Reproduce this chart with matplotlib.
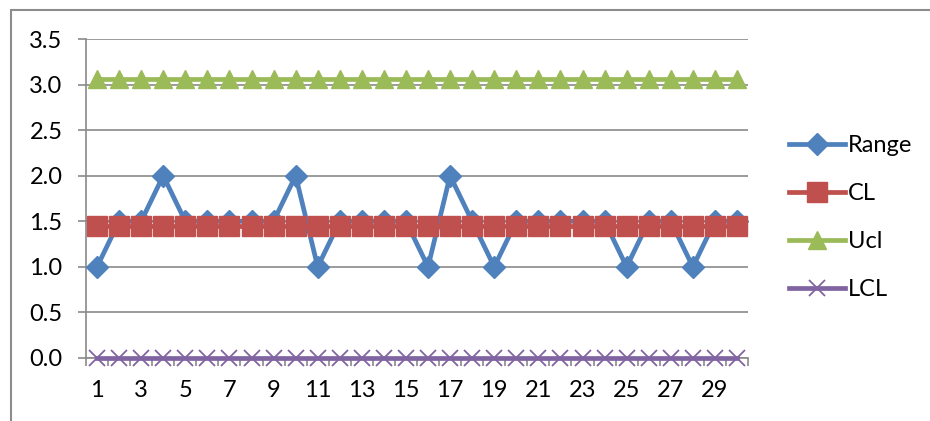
import matplotlib.pyplot as plt
import numpy as np
from matplotlib.patches import Rectangle

plt.rcParams['font.family'] = ['Lato', 'DejaVu Sans']

samples = np.arange(1, 31)
range_vals = [1.0, 1.5, 1.5, 2.0, 1.5, 1.5, 1.5, 1.5, 1.5, 2.0,
              1.0, 1.5, 1.5, 1.5, 1.5, 1.0, 2.0, 1.5, 1.0, 1.5,
              1.5, 1.5, 1.5, 1.5, 1.0, 1.5, 1.5, 1.0, 1.5, 1.5]
cl = 1.45
ucl = 3.065
lcl = 0.0
tick_labels = [str(i) for i in range(1, 30, 2)]

fig = plt.figure(figsize=(9.3, 4.21), dpi=100)
ax = fig.add_axes([86/930, 1-358/421, (748-86)/930, (358-39)/421])

n = len(samples)
ax.plot(samples, range_vals, color='#4F81BD', lw=3.4, marker='D', ms=11.5,
        label='Range', zorder=3)
ax.plot(samples, [cl]*n, color='#C0504D', lw=3.4, marker='s', ms=14,
        label='CL', zorder=4)
ax.plot(samples, [ucl]*n, color='#9BBB59', lw=3.4, marker='^', ms=13,
        label='Ucl', zorder=5)
ax.plot(samples, [lcl]*n, color='#8064A2', lw=3.4, marker='x', ms=11,
        mew=1.3, label='LCL', zorder=6, clip_on=False)

ax.set_xlim(0.5, 30.5)
ax.set_ylim(0, 3.5)
ax.set_yticks(np.arange(0, 3.51, 0.5))
ax.set_yticklabels([f'{v:.1f}' for v in np.arange(0, 3.51, 0.5)])
ax.set_xticks(range(1, 30, 2))
ax.set_xticklabels(tick_labels)
ax.set_xticks(np.arange(0.5, 31, 1), minor=True)

ax.grid(axis='y', color='#8a8a8a', lw=1.2)
ax.set_axisbelow(True)
for s in ['top', 'right']:
    ax.spines[s].set_visible(False)
for s in ['left', 'bottom']:
    ax.spines[s].set_color('#8a8a8a')
    ax.spines[s].set_linewidth(1.2)

ax.tick_params(axis='y', length=6, width=1.2, color='#8a8a8a', pad=11,
               labelsize=17)
ax.tick_params(axis='x', which='major', length=0, pad=16, labelsize=17)
ax.tick_params(axis='x', which='minor', length=6, width=1.2, color='#8a8a8a')

fig.legend(loc='center left', bbox_to_anchor=(0.848, 0.483), frameon=False,
           fontsize=17, handlelength=2.4, handletextpad=0.1,
           labelspacing=1.15, borderpad=0, borderaxespad=0)

# chart area frame (top and left edges fall inside the image)
fig.patches.append(Rectangle((10.5/930, -0.1), 1.1, 1.1 - 10/421,
                             transform=fig.transFigure, facecolor='none',
                             edgecolor='#8c8c8c', lw=1.5, figure=fig,
                             zorder=10))

fig.savefig('out.png', dpi=100)
